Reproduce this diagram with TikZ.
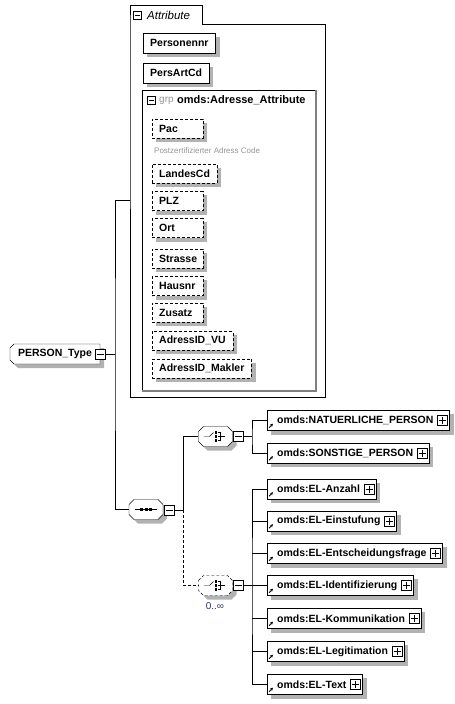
\documentclass[tikz,border=0pt]{standalone}
\usepackage{fontspec}
\setmainfont{Liberation Sans}
\usetikzlibrary{arrows.meta,calc}
\definecolor{grpgray}{RGB}{128,128,128}
\definecolor{txtgray}{RGB}{150,150,150}
\definecolor{occcol}{RGB}{40,55,100}
\pgfdeclarelayer{bg}
\pgfdeclarelayer{shl}
\pgfdeclarelayer{shp}
\pgfsetlayers{bg,shl,shp,main}
\tikzset{shfill/.style={fill=black!30,draw=none}}
\newcommand\mkminus[1]{\draw[line width=0.9pt] ([xshift=2pt]#1.west) -- ([xshift=-2pt]#1.east);}
\newcommand\mkplus[1]{\draw[line width=0.9pt] ([xshift=2pt]#1.west) -- ([xshift=-2pt]#1.east) ([yshift=-2pt]#1.north) -- ([yshift=2pt]#1.south);}
\newcommand\nshadow[1]{\begin{pgfonlayer}{shl}\path[shfill] ($(#1.north west)+(4,4)$) rectangle ($(#1.south east)+(4,4)$);\end{pgfonlayer}}
\newcommand\octpath[3]{($(#1.center)+(-17+#2,-5+#3)$) -- ($(#1.center)+(-12+#2,-10+#3)$) -- ($(#1.center)+(12+#2,-10+#3)$) -- ($(#1.center)+(17+#2,-5+#3)$) -- ($(#1.center)+(17+#2,5+#3)$) -- ($(#1.center)+(12+#2,10+#3)$) -- ($(#1.center)+(-12+#2,10+#3)$) -- ($(#1.center)+(-17+#2,5+#3)$) -- cycle}
\newcommand\octo[2]{%
  \begin{pgfonlayer}{shl}\path[shfill] \octpath{#1}{4}{4};\end{pgfonlayer}
  \begin{pgfonlayer}{shp}\draw[fill=white,#2] \octpath{#1}{0}{0};\end{pgfonlayer}}
\newcommand\perspath[3]{($(#1.center)+(-45+#2,-6+#3)$) -- ($(#1.center)+(-41+#2,-10+#3)$) -- ($(#1.center)+(45+#2,-10+#3)$) -- ($(#1.center)+(45+#2,10+#3)$) -- ($(#1.center)+(-41+#2,10+#3)$) -- ($(#1.center)+(-45+#2,6+#3)$) -- cycle}
\newcommand\mkchild[3]{%
  \node[childbox] (#1) at (267,#2) {\hspace*{10pt}#3\hspace*{16pt}};
  \nshadow{#1}
  \node[expbox] (#1p) at ([xshift=-7pt]#1.east) {}; \mkplus{#1p}
  \draw[link] ([xshift=2pt,yshift=3pt]#1.south west) -- ++(4,-4);}
\newcommand\choicesym[1]{%
  \draw ([xshift=-12pt]#1.center) -- ([xshift=-6pt]#1.center) -- ([xshift=-2pt,yshift=4pt]#1.center);
  \foreach \d in {-4,0,4} \fill ([xshift=0.5pt,yshift=\d pt]#1.center) +(-1.3,-1.3) rectangle +(1.3,1.3);
  \draw ([xshift=2.5pt,yshift=4pt]#1.center) -- ([xshift=5pt,yshift=4pt]#1.center) -- ([xshift=5pt,yshift=-4pt]#1.center) -- ([xshift=2.5pt,yshift=-4pt]#1.center);
  \draw ([xshift=2.5pt]#1.center) -- ([xshift=9pt]#1.center);}
\begin{document}
\begin{tikzpicture}[x=1pt,y=-1pt,line width=1pt,
 bfnt/.style={font=\fontsize{10.5}{12}\selectfont\bfseries},
 attrbox/.style={draw,fill=white,bfnt,anchor=west,minimum height=20pt,inner xsep=7pt,inner ysep=0pt},
 optbox/.style={attrbox,dash pattern=on 3pt off 2pt,minimum height=19pt},
 shortopt/.style={optbox,text width=37pt,align=left},
 childbox/.style={draw,fill=white,bfnt,anchor=west,minimum height=20pt,inner xsep=0pt,inner ysep=0pt},
 expbox/.style={draw,fill=white,minimum size=10pt,inner sep=0pt,line width=1pt},
 compbox/.style={minimum width=34pt,minimum height=20pt,inner sep=0pt},
 link/.style={-{Stealth[length=3pt,width=3pt]},line width=1pt},
 dsh/.style={dash pattern=on 3pt off 2pt}
]
\useasboundingbox (0,0) rectangle (455,704);
% Attribute container
\begin{pgfonlayer}{bg}
\draw[fill=white] (130,24) -- (130,5) -- (202,5) -- (202,24) -- (325,24) -- (325,397) -- (130,397) -- cycle;
\draw (142,391) -- (142,90) -- (316,90);
\draw[grpgray,line width=1.5pt] (316,90) -- (316,391) -- (142,391);
\end{pgfonlayer}
\node[expbox,minimum size=8pt] (amin) at (137.5,15) {}; \mkminus{amin}
\node[anchor=west,font=\fontsize{11.5}{13}\selectfont\itshape,inner sep=0pt] (atitle) at (147,15) {Attribute};
\coordinate (attrL) at (130,200);
\node[attrbox] (pnr) at (143,43) {Personennr}; \nshadow{pnr}
\node[attrbox] (pac) at (143,73) {PersArtCd}; \nshadow{pac}
% group
\node[expbox,minimum size=8pt] (gmin) at (151.5,100.5) {}; \mkminus{gmin}
\node[anchor=west,text=txtgray,font=\fontsize{10}{12}\selectfont,inner sep=0pt] (grp) at (159,100.5) {grp};
\node[anchor=west,font=\fontsize{11}{12}\selectfont\bfseries,inner sep=0pt] (gname) at (177,100.5) {omds:Adresse\_Attribute};
\node[shortopt] (a1) at (152,128.5) {Pac};
\node[anchor=west,text=txtgray,font=\fontsize{8}{10}\selectfont,inner sep=0pt] (a1doc) at (154,151) {Postzertifizierter Adress Code};
\node[optbox] (a2) at (152,173.5) {LandesCd};
\node[shortopt] (a3) at (152,201) {PLZ};
\node[shortopt] (a4) at (152,228) {Ort};
\node[shortopt] (a5) at (152,258.5) {Strasse};
\node[shortopt] (a6) at (152,286) {Hausnr};
\node[shortopt] (a7) at (152,312.5) {Zusatz};
\node[optbox] (a8) at (152,340.5) {AdressID\_VU};
\node[optbox] (a9) at (152,368.5) {AdressID\_Makler};
\nshadow{a1}\nshadow{a2}\nshadow{a3}\nshadow{a4}\nshadow{a5}\nshadow{a6}\nshadow{a7}\nshadow{a8}\nshadow{a9}
% root
\node[bfnt,minimum width=90pt,minimum height=20pt,inner sep=0pt] (person) at (55,354) {PERSON\_Type};
\begin{pgfonlayer}{shl}\path[shfill] \perspath{person}{4}{4};\end{pgfonlayer}
\begin{pgfonlayer}{shp}\draw[fill=white] \perspath{person}{0}{0};\end{pgfonlayer}
\node[expbox] (pmin) at (100.5,354) {}; \mkminus{pmin}
% sequence
\node[compbox] (seq) at (146,509.5) {}; \octo{seq}{}
\draw ([xshift=-11pt]seq.center) -- ([xshift=11pt]seq.center);
\foreach \d in {-4.5,0,4.5} \fill ([xshift=\d pt]seq.center) +(-1.5,-1.5) rectangle +(1.5,1.5);
\node[expbox] (seqmin) at (169,510) {}; \mkminus{seqmin}
% choices
\node[compbox] (ch1) at (215.5,436.5) {}; \octo{ch1}{} \choicesym{ch1}
\node[expbox] (ch1min) at (238,436.5) {}; \mkminus{ch1min}
\node[compbox] (ch2) at (215.5,585.5) {}; \octo{ch2}{dsh} \choicesym{ch2}
\node[expbox] (ch2min) at (238,585.5) {}; \mkminus{ch2min}
\node[text=occcol,font=\fontsize{10}{12}\selectfont,inner sep=0pt] (occ) at (215,606) {0..∞};
% children
\mkchild{c1}{420.5}{omds:NATUERLICHE\_PERSON}
\mkchild{c2}{453}{omds:SONSTIGE\_PERSON}
\mkchild{c3}{489}{omds:EL-Anzahl}
\mkchild{c4}{521}{omds:EL-Einstufung}
\mkchild{c5}{553.5}{omds:EL-Entscheidungsfrage}
\mkchild{c6}{585.5}{omds:EL-Identifizierung}
\mkchild{c7}{618.5}{omds:EL-Kommunikation}
\mkchild{c8}{651.5}{omds:EL-Legitimation}
\mkchild{c9}{684.5}{omds:EL-Text}
% connectors
\coordinate (jm) at (115,354);
\draw (pmin.east) -- (jm);
\draw (attrL) -| (jm) |- (seq.west);
\coordinate (js) at (183,510);
\draw (seqmin.east) -- (js);
\draw (ch1.west) -| (js);
\draw[dsh] (js) |- (ch2.west);
\coordinate (j1) at (252,436.5);
\draw (ch1min.east) -- (j1);
\draw (c1.west) -| (j1) |- (c2.west);
\coordinate (j2) at (252,585.5);
\draw (ch2min.east) -- (j2);
\draw (c3.west) -| (j2) |- (c9.west);
\foreach \i in {4,...,8} \draw (c\i.west) -- (c\i.west -| j2);
\end{tikzpicture}
\end{document}
